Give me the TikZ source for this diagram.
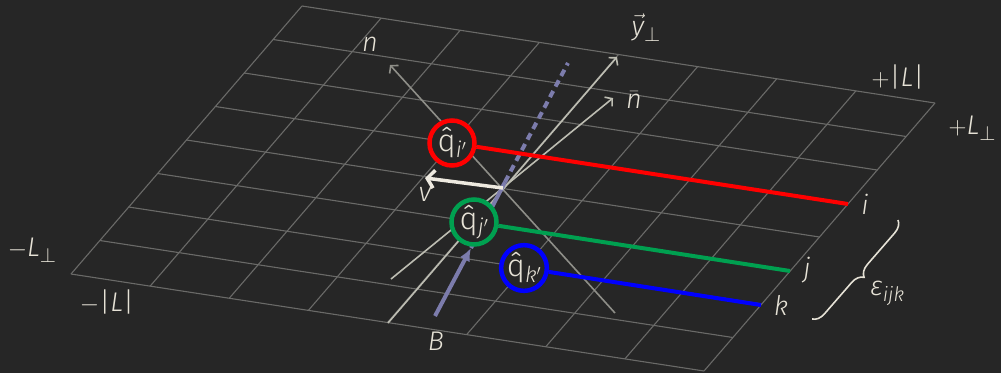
\documentclass[tikz,border=0pt]{standalone}
\usepackage{fontspec}
\setmainfont{Fira Sans}[UprightFont=* Light, ItalicFont=* Light Italic, BoldFont=* Medium]
\usetikzlibrary{arrows.meta,decorations.pathreplacing}
\definecolor{bg}{HTML}{262626}
\definecolor{gridc}{HTML}{6A6A68}
\definecolor{txt}{HTML}{E6E2D6}
\definecolor{arrA}{HTML}{8E8E88}
\definecolor{arrB}{HTML}{BDBDB2}
\definecolor{vcol}{HTML}{EEEAE0}
\definecolor{bcol}{HTML}{7C7CAC}
\definecolor{qred}{HTML}{FF0000}
\definecolor{qgreen}{HTML}{00A050}
\definecolor{qblue}{HTML}{0000FF}
\newcommand\lsb[1]{\raisebox{-0.4ex}{\fontsize{20}{20}\selectfont\itshape #1}}
\newcommand\qsb[1]{\raisebox{-0.35ex}{\fontsize{22}{22}\selectfont\itshape #1}}
\newcommand\pp{\raisebox{-0.45ex}{\fontsize{22}{22}\selectfont$\perp$}}
\tikzset{
  gridline/.style={draw=gridc, line width=1.1pt},
  lbl/.style={text=txt, inner sep=0pt, font=\fontsize{27}{30}\selectfont},
  grayarrow/.style={line width=1.6pt, -{Straight Barb[length=5pt,width=12pt]}},
  qcircle/.style={circle, line width=4.5pt, fill=bg, minimum size=45pt, inner sep=0pt,
    text=txt, font=\fontsize{31}{34}\selectfont},
  qline/.style={line width=4pt},
}
\begin{document}
\begin{tikzpicture}[x=1pt,y=-1pt]
\fill[bg] (0,0) rectangle (1001,373);
\useasboundingbox (0,0) rectangle (1001,373);
% grid
\foreach \k in {0,...,8} {
  \draw[gridline] (71+79.125*\k, 274+12.125*\k) -- ++(231,-268);
  \draw[gridline] (71+28.875*\k, 274-33.5*\k) -- ++(633,97);
}
% coordinates
\coordinate (ns) at (615,313);
\coordinate (ne) at (390,65);
\coordinate (nbs) at (391,279);
\coordinate (nbe) at (613,98);
\coordinate (ys) at (388,323);
\coordinate (ye) at (617,57);
\coordinate (Bs) at (435,316);
\coordinate (Bt) at (471,248);
\coordinate (Bm) at (505,182);
\coordinate (Be) at (568,63);
\coordinate (vs) at (503,188);
\coordinate (ve) at (425,178);
\coordinate (ie) at (848,204);
\coordinate (je) at (790,271);
\coordinate (ke) at (761,305);
\coordinate (brt) at (898,220);
\coordinate (brb) at (812,319);
% gray arrows
\draw[grayarrow, arrA] (ns) -- (ne);
\draw[grayarrow, arrB] (nbs) -- (nbe);
\draw[grayarrow, arrB] (ys) -- (ye);
% B arrow
\draw[bcol, line width=4pt, -{Latex[length=13pt,width=11pt]}] (Bs) -- (Bt);
\draw[bcol, line width=4pt] (Bt) -- (Bm);
\draw[bcol, line width=4pt, dash pattern=on 7pt off 5pt] (Bm) -- (Be);
% v arrow
\draw[vcol, line width=3.5pt, -{Straight Barb[length=7pt,width=18pt]}] (vs) -- (ve);
% circles
\node[qcircle, draw=qred] (qi) at (452,143) {\^q\qsb{i$'$}};
\node[qcircle, draw=qgreen] (qj) at (474,222) {\^q\qsb{j$'$}};
\node[qcircle, draw=qblue] (qk) at (524,268) {\^q\qsb{k$'$}};
\draw[qline, qred] (qi) -- (ie);
\draw[qline, qgreen] (qj) -- (je);
\draw[qline, qblue] (qk) -- (ke);
% brace
\draw[txt, line width=1.6pt, decorate, decoration={brace, amplitude=12pt}] (brt) -- (brb);
% labels
\node[lbl] (Lpm) at (32,250) {$-${\itshape L}\pp};
\node[lbl] (Lam) at (107,302) {$-$|{\itshape L}|};
\node[lbl] (Lap) at (898,77) {$+$|{\itshape L}|};
\node[lbl] (Lpp) at (972,128) {$+${\itshape L}\pp};
\node[lbl] (nl) at (370,44) {\itshape n};
\node[lbl] (yl) at (646,28) {$\vec{\mbox{\itshape y}}$\pp};
\node[lbl] (nbl) at (634,100) {$\bar{\mbox{\itshape n}}$};
\node[lbl] (il) at (865,204) {\itshape i};
\node[lbl] (jl) at (807,270) {\itshape j};
\node[lbl] (kl) at (781,305) {\itshape k};
\node[lbl] (el) at (887,293) {{\itshape ε}\lsb{ijk}};
\node[lbl] (Bl) at (436,341) {\itshape B};
\node[lbl] (vl) at (425,194) {\itshape v};
\end{tikzpicture}
\end{document}
